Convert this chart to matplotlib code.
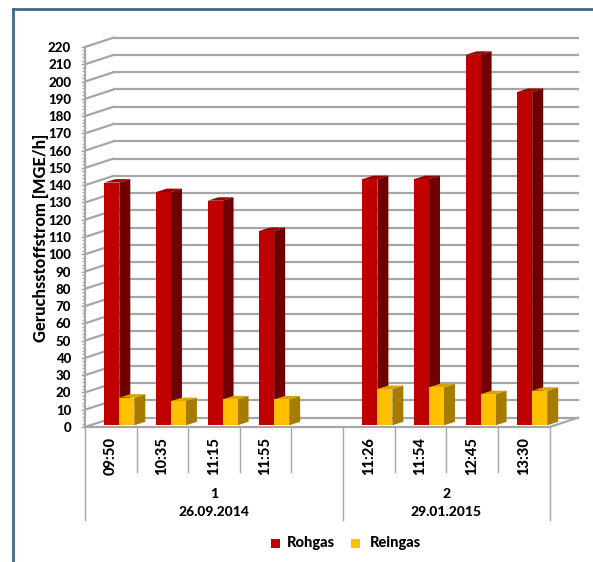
import matplotlib
matplotlib.use("Agg")
import matplotlib.pyplot as plt
from matplotlib.patches import Polygon, Rectangle

plt.rcParams['font.family'] = ['Lato', 'DejaVu Sans']
plt.rcParams['font.weight'] = 900

times = ["09:50", "10:35", "11:15", "11:55", "", "11:26", "11:54", "12:45", "13:30"]
rohgas = [141.5, 136, 131, 113.5, None, 143.5, 143.5, 215.5, 194]
reingas = [17, 15, 16, 16, None, 22, 23, 19, 21]
group_labels = ["1\n26.09.2014", "2\n29.01.2015"]
group_edges = [0, 5, 9]
yticks = list(range(0, 221, 10))
legend_names = ["Rohgas", "Reingas"]
legend_colors = ["#c00000", "#ffc000"]

W, H = 593, 562
fig = plt.figure(figsize=(W / 100, H / 100), dpi=100)
ax = fig.add_axes([85 / W, 1 - 427 / H, 464.5 / W, 380 / H])
ax.set_xlim(0, 9)
ax.set_ylim(0, 220)
ax.patch.set_visible(False)

# depth of the fake 3d box, in data units
dx = 28.5 / 51.6
dy = 5.4
grid_c = "#a6a6a6"

for v in yticks:
    ax.plot([0, dx], [v, v + dy], color=grid_c, lw=1.6, clip_on=False, zorder=1)
    ax.plot([dx, 9 + dx], [v + dy, v + dy], color=grid_c, lw=1.6, clip_on=False, zorder=1)
ax.plot([9, 9 + dx], [0, dy], color=grid_c, lw=1.6, clip_on=False, zorder=1)


def bar3d(x0, w, h, front, side, top):
    bx = 11 / 51.6
    by = 2.0
    y0 = 1
    ax.add_patch(Polygon([(x0 + w, y0), (x0 + w + bx, y0 + by), (x0 + w + bx, h + by), (x0 + w, h)],
                         fc=side, ec="none", clip_on=False, zorder=3))
    ax.add_patch(Polygon([(x0, h), (x0 + bx, h + by), (x0 + w + bx, h + by), (x0 + w, h)],
                         fc=top, ec="none", clip_on=False, zorder=3))
    ax.add_patch(Rectangle((x0, y0), w, h - y0, fc=front, ec="none", clip_on=False, zorder=3))


bw = 15 / 51.6
for i in range(len(times)):
    if rohgas[i] is None:
        continue
    x0 = i + 19.3 / 51.6
    bar3d(x0, bw, rohgas[i], "#c00000", "#700000", "#9a0000")
    bar3d(x0 + bw, bw, reingas[i], "#ffc000", "#a67c00", "#d9a300")

for s in ["top", "right"]:
    ax.spines[s].set_visible(False)
for s in ["left", "bottom"]:
    ax.spines[s].set_color(grid_c)
    ax.spines[s].set_linewidth(1.6)
    ax.spines[s].set_zorder(2)

ax.set_yticks(yticks)
ax.set_yticks([v for v in range(0, 221, 2) if v % 10], minor=True)
ax.tick_params(axis="y", which="major", length=3, width=1, color=grid_c, labelsize=9.5, pad=7)
ax.tick_params(axis="y", which="minor", length=2, width=0.8, color=grid_c)
ax.set_ylabel("Geruchsstoffstrom [MGE/h]", fontsize=11.9, fontweight=900, labelpad=-0.5, y=0.497)

# category axis below the plot
ax.set_xticks([i + 0.5 for i in range(len(times))])
ax.set_xticklabels(times, rotation=90, fontsize=10.5)
ax.tick_params(axis="x", length=0, pad=7)
trans = ax.get_xaxis_transform()
for i in range(10):
    low = -93 / 380 if i in group_edges else -45 / 380
    ax.plot([i, i], [0, low], color=grid_c, lw=1, transform=trans, clip_on=False)
for k, label in enumerate(group_labels):
    mid = (group_edges[k] + group_edges[k + 1]) / 2
    ax.text(mid, -76 / 380, label, transform=trans, ha="center", va="center",
            fontsize=10, linespacing=1.55)

# outer frame
fig.add_artist(plt.Line2D([13 / W, 13 / W], [0, 1 - 9 / H], color="#3f6b85", lw=2))
fig.add_artist(plt.Line2D([13 / W, 1], [1 - 9 / H, 1 - 9 / H], color="#3f6b85", lw=2))

# legend
for x, tx, c, t in zip([271, 351], [287, 370], legend_colors, legend_names):
    fig.add_artist(Rectangle((x / W, 1 - 548 / H), 9 / W, 9 / H, fc=c, ec="none", transform=fig.transFigure))
    fig.text(tx / W, 1 - 543.5 / H, t, fontsize=10.5, va="center")

fig.savefig("out.png", dpi=100)
